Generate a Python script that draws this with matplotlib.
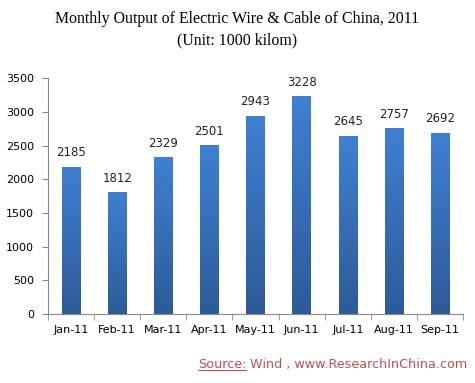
import matplotlib.pyplot as plt
import numpy as np
from matplotlib.colors import LinearSegmentedColormap
from matplotlib.lines import Line2D

# Data
months = ['Jan-11', 'Feb-11', 'Mar-11', 'Apr-11', 'May-11', 'Jun-11', 'Jul-11', 'Aug-11', 'Sep-11']
output = [2185, 1812, 2329, 2501, 2943, 3228, 2645, 2757, 2692]

fig = plt.figure(figsize=(4.75, 3.83), dpi=100)
ax = fig.add_axes([0.101, 0.180, 0.874, 0.616])

x = np.arange(len(months))
bars = ax.bar(x, output, width=0.4, color='none', edgecolor='none')

# Gradient fill for each bar
grad = np.linspace(0, 1, 256).reshape(-1, 1)
cmap = LinearSegmentedColormap.from_list('bar', ['#2d5b98', '#3f80d2'])
for b in bars:
    bx, by = b.get_x(), b.get_y()
    w, h = b.get_width(), b.get_height()
    im = ax.imshow(grad, extent=[bx, bx + w, by, by + h], origin='lower',
                   cmap=cmap, aspect='auto', zorder=2)
    im.set_clip_path(b)

for xi, v in zip(x, output):
    ax.text(xi, v + 110, str(v), ha='center', va='bottom', fontsize=8.5, color='#222222')

ax.set_xlim(-0.5, len(months) - 0.5)
ax.set_ylim(0, 3500)
ax.set_yticks(np.arange(0, 3501, 500))
ax.set_xticks(x)
ax.set_xticklabels(months, fontsize=8)
ax.set_xticks(np.arange(-0.5, len(months)), minor=True)
ax.tick_params(axis='x', which='major', length=0, pad=8)
ax.tick_params(axis='x', which='minor', length=4, color='#888888')
ax.tick_params(axis='y', labelsize=8, length=4, color='#888888', pad=6)

for s in ['top', 'right']:
    ax.spines[s].set_visible(False)
for s in ['left', 'bottom']:
    ax.spines[s].set_color('#888888')

fig.text(0.5, 0.951, 'Monthly Output of Electric Wire & Cable of China, 2011',
         ha='center', va='center', family='Liberation Serif', fontsize=11.4)
fig.text(0.5, 0.894, '(Unit: 1000 kilom)',
         ha='center', va='center', family='Liberation Serif', fontsize=11.4)

# Source line with underlined "Source:", right-aligned
red = '#c0504d'
rest = fig.text(0.984, 0.040, ' Wind , www.ResearchInChina.com', color=red, fontsize=9.2,
                ha='right', va='baseline')
fig.canvas.draw()
r = fig.canvas.get_renderer()
rb = rest.get_window_extent(r).transformed(fig.transFigure.inverted())
src = fig.text(rb.x0, 0.040, 'Source:', color=red, fontsize=9.2, ha='right', va='baseline')
fig.canvas.draw()
bb = src.get_window_extent(r).transformed(fig.transFigure.inverted())
uy = 0.040 - 0.007
fig.add_artist(Line2D([bb.x0, bb.x1], [uy, uy], color=red, lw=0.8, transform=fig.transFigure))

fig.savefig('out.png', dpi=100)
